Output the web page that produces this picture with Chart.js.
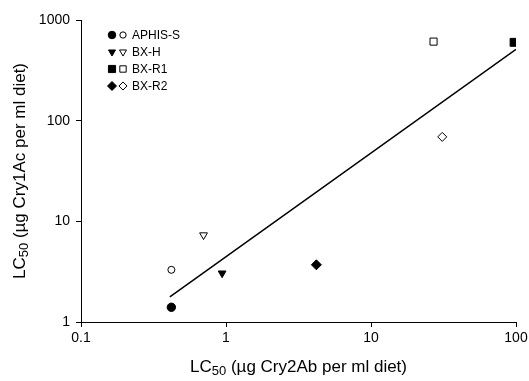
<!DOCTYPE html>
<html><head><meta charset="utf-8">
<script src="https://cdn.jsdelivr.net/npm/chart.js@4"></script>
<style>html,body{margin:0;padding:0;background:#fff}#wrap{width:529px;height:381px;position:relative}</style>
</head><body><div id="wrap"><canvas id="c"></canvas></div>
<script>
const seriesNames = ['APHIS-S', 'BX-H', 'BX-R1', 'BX-R2'];
const cry2abFilled = [0.42, 0.94, 97, 4.2];
const cry1acFilled = [1.4, 3.05, 600, 3.7];
const cry2abOpen = [0.42, 0.70, 27, 31];
const cry1acOpen = [3.3, 7.3, 610, 69];
const fitX = [0.41, 100];
const fitY = [1.78, 510];
const xTicks = [0.1, 1, 10, 100];
const xTickLabels = ['0.1', '1', '10', '100'];
const yTicks = [1, 10, 100, 1000];
const yTickLabels = ['1', '10', '100', '1000'];
const xTitle = ['LC', '50', ' (\u00b5g Cry2Ab per ml diet)'];
const yTitle = ['LC', '50', ' (\u00b5g Cry1Ac per ml diet)'];

const FONT = "'Liberation Sans', Arial, sans-serif";
const styles = ['circle', 'triangle', 'rect', 'rectRot'];
const rotations = [0, 180, 0, 0];
const rFilled = [4.2, 4.5, 5.6, 5];
const rOpen = [3.5, 4.5, 5, 4.5];

const datasets = [];
seriesNames.forEach((n, i) => {
  datasets.push({
    label: n + ' Cry', data: [{x: cry2abFilled[i], y: cry1acFilled[i]}],
    pointStyle: styles[i], rotation: rotations[i], pointRadius: rFilled[i],
    backgroundColor: '#000', borderColor: '#000', borderWidth: 1, pointHoverRadius: rFilled[i]
  });
  datasets.push({
    label: n + ' open', data: [{x: cry2abOpen[i], y: cry1acOpen[i]}],
    pointStyle: styles[i], rotation: rotations[i], pointRadius: rOpen[i],
    backgroundColor: '#fff', borderColor: '#000', borderWidth: 1, pointHoverRadius: rOpen[i]
  });
});
datasets.push({
  label: 'fit', type: 'line', data: fitX.map((x, i) => ({x, y: fitY[i]})),
  showLine: true, pointRadius: 0, borderColor: '#000', borderWidth: 1.5, fill: false
});

function drawTitle(ctx, parts, cx, cy) {
  ctx.save();
  ctx.fillStyle = '#000';
  ctx.textBaseline = 'middle';
  ctx.textAlign = 'left';
  const big = '17px ' + FONT, small = '13px ' + FONT;
  ctx.font = big; const w0 = ctx.measureText(parts[0]).width;
  ctx.font = small; const w1 = ctx.measureText(parts[1]).width;
  ctx.font = big; const w2 = ctx.measureText(parts[2]).width;
  let x = cx - (w0 + w1 + w2) / 2;
  ctx.font = big; ctx.fillText(parts[0], x, cy); x += w0;
  ctx.font = small; ctx.fillText(parts[1], x, cy + 4); x += w1;
  ctx.font = big; ctx.fillText(parts[2], x, cy);
  ctx.restore();
}

const extras = {
  id: 'extras',
  afterDraw(chart) {
    const ctx = chart.ctx, a = chart.chartArea;
    drawTitle(ctx, xTitle, (a.left + a.right) / 2, 367);
    ctx.save();
    ctx.translate(20, (a.top + a.bottom) / 2);
    ctx.rotate(-Math.PI / 2);
    drawTitle(ctx, yTitle, 0, 0);
    ctx.restore();
    // legend
    ctx.save();
    seriesNames.forEach((n, i) => {
      const y = a.top + 15 + i * 17;
      ctx.fillStyle = '#000'; ctx.strokeStyle = '#000'; ctx.lineWidth = 1;
      Chart.helpers.drawPoint(ctx, {pointStyle: styles[i], rotation: rotations[i], radius: rFilled[i] * 0.9, borderWidth: 1}, a.left + 31, y);
      ctx.fillStyle = '#fff';
      Chart.helpers.drawPoint(ctx, {pointStyle: styles[i], rotation: rotations[i], radius: rOpen[i] * 0.9, borderWidth: 1}, a.left + 42, y);
      ctx.fillStyle = '#000';
      ctx.font = '12px ' + FONT;
      ctx.textBaseline = 'middle'; ctx.textAlign = 'left';
      ctx.fillText(n, a.left + 51, y + 0.5);
    });
    ctx.restore();
  }
};

new Chart(document.getElementById('c'), {
  type: 'scatter',
  data: {datasets},
  plugins: [extras],
  options: {
    responsive: true, maintainAspectRatio: false, animation: false,
    layout: {padding: {top: 20, right: 13, left: 0, bottom: 0}},
    plugins: {legend: {display: false}, tooltip: {enabled: false}},
    scales: {
      x: {
        type: 'logarithmic', min: 0.1, max: 100,
        afterBuildTicks: s => { s.ticks = xTicks.map(v => ({value: v})); },
        afterFit: s => { s.height = 59; s.paddingLeft = 0; s.paddingRight = 0; },
        ticks: {callback: (v) => xTickLabels[xTicks.indexOf(v)] ?? '', color: '#000', font: {size: 14, family: FONT}, maxRotation: 0, autoSkip: false, padding: 3},
        grid: {drawOnChartArea: false, drawTicks: true, tickLength: 5, color: '#000'},
        border: {color: '#000', width: 1}
      },
      y: {
        type: 'logarithmic', min: 1, max: 1000,
        afterBuildTicks: s => { s.ticks = yTicks.map(v => ({value: v})); },
        afterFit: s => { s.width = 81; s.paddingTop = 0; s.paddingBottom = 0; },
        ticks: {callback: (v) => yTickLabels[yTicks.indexOf(v)] ?? '', color: '#000', font: {size: 14, family: FONT}, autoSkip: false, padding: 6},
        grid: {drawOnChartArea: false, drawTicks: true, tickLength: 5, color: '#000'},
        border: {color: '#000', width: 1}
      }
    }
  }
});
</script></body></html>
